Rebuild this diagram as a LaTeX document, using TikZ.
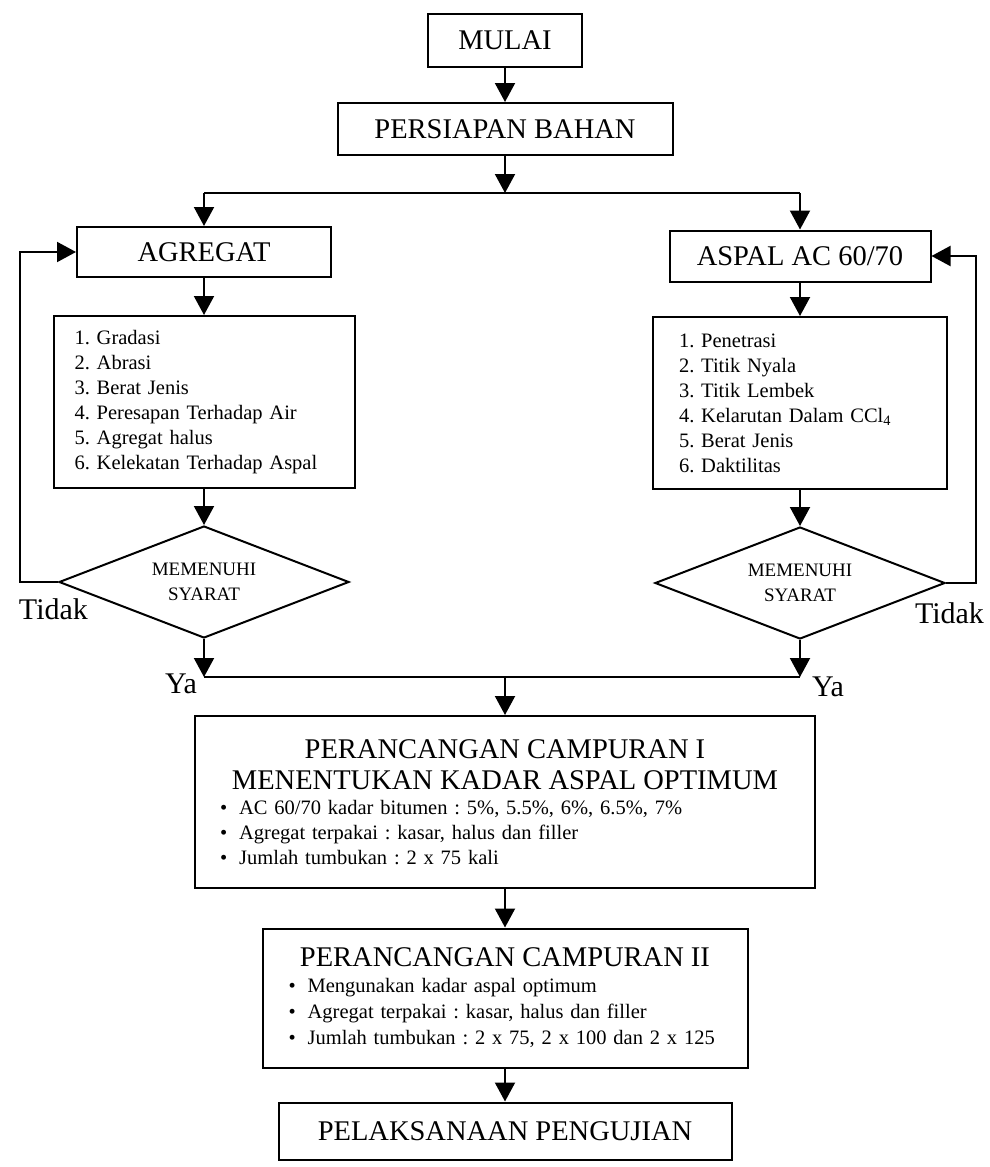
\documentclass[tikz,border=0pt]{standalone}
\usepackage{fontspec}
\setmainfont{Liberation Serif}
\usepackage{tikz}
\usetikzlibrary{arrows.meta,shapes.geometric}
\frenchspacing

\newcommand{\judul}{\fontsize{28.5}{31}\selectfont\spaceskip=0pt\xspaceskip=0pt}
\newcommand{\isi}{\fontsize{20.5}{25}\selectfont\frenchspacing}

\begin{document}
\begin{tikzpicture}[>={Triangle[length=19pt,width=20pt]},x=1pt,y=-1pt,line width=2pt,
    kotak/.style={draw,inner sep=0pt,font=\judul},
    daftar/.style={draw,inner ysep=0pt,align=left,minimum height=172pt,font=\isi},
    rancang/.style={draw,inner ysep=0pt,align=left,font=\isi},
    syarat/.style={draw,diamond,aspect=2.6,inner sep=0pt,minimum width=290pt,
      minimum height=112pt,align=center,font=\fontsize{19}{25}\selectfont},
    keterangan/.style={anchor=base west,inner sep=0pt,font=\fontsize{30}{30}\selectfont}]
  \useasboundingbox (0,0) rectangle (989,1167);
  % awal
  \node[kotak,minimum width=154pt,minimum height=53pt] (mulai) at (505,40) {MULAI};
  \node[kotak,minimum width=335pt,minimum height=52pt] (bahan) at (505,129) {PERSIAPAN BAHAN};
  \coordinate (cabang) at (505,193);
  % kolom agregat
  \node[kotak,minimum width=254pt,minimum height=50pt] (agregat) at (204,252) {AGREGAT};
  \node[daftar,text width=259pt,inner xsep=21pt] (ujiagr) at (204,402)
    {1. Gradasi\\2. Abrasi\\3. Berat Jenis\\4. Peresapan Terhadap Air\\5. Agregat halus\\6. Kelekatan Terhadap Aspal};
  \node[syarat] (cekagr) at (204,582) {MEMENUHI\\SYARAT};
  % kolom aspal
  \node[kotak,minimum width=261pt,minimum height=51pt] (aspal) at (800,256) {ASPAL AC 60/70};
  \node[daftar,text width=242pt,inner xsep=26pt] (ujiasp) at (800,403)
    {1. Penetrasi\\2. Titik Nyala\\3. Titik Lembek\\4. Kelarutan Dalam CCl\textsubscript{4}\\5. Berat Jenis\\6. Daktilitas};
  \node[syarat] (cekasp) at (800,583) {MEMENUHI\\SYARAT};
  % gabungan
  \coordinate (yakiri) at (204,677);
  \coordinate (yakanan) at (800,677);
  \coordinate (gabung) at (505,677);
  \node[rancang,text width=570pt,inner xsep=25pt,minimum height=172pt] (campur1) at (505,802)
    {{\judul\centering PERANCANGAN CAMPURAN I\\MENENTUKAN KADAR ASPAL OPTIMUM\par}
     {\isi\textbullet\hspace{12pt}AC 60/70 kadar bitumen : 5\%, 5.5\%, 6\%, 6.5\%, 7\%\\
      \textbullet\hspace{12pt}Agregat terpakai : kasar, halus dan filler\\
      \textbullet\hspace{12pt}Jumlah tumbukan : 2 x 75 kali\par}};
  \node[rancang,text width=433pt,inner xsep=26pt,minimum height=139pt] (campur2) at (505,998)
    {{\judul\centering PERANCANGAN CAMPURAN II\par}
     {\fontsize{20.5}{26}\selectfont\textbullet\hspace{12pt}Mengunakan kadar aspal optimum\\
      \textbullet\hspace{12pt}Agregat terpakai : kasar, halus dan filler\\
      \textbullet\hspace{12pt}Jumlah tumbukan : 2 x 75, 2 x 100 dan 2 x 125\par}};
  \node[kotak,minimum width=453pt,minimum height=57pt] (uji) at (505,1131) {PELAKSANAAN PENGUJIAN};
  % keterangan
  \node[keterangan] (tidakkiri) at (18,619) {Tidak};
  \node[keterangan] (tidakkanan) at (914,623) {Tidak};
  \node[keterangan] (yaa) at (164,693) {Ya};
  \node[keterangan] (yab) at (811,696) {Ya};
  % panah
  \draw[->] (mulai) -- (bahan);
  \draw[->] (bahan) -- (cabang);
  \draw (cabang -| agregat) -- (cabang -| aspal);
  \draw[->] (cabang -| agregat) -- (agregat);
  \draw[->] (cabang -| aspal) -- (aspal);
  \draw[->] (agregat) -- (ujiagr);
  \draw[->] (ujiagr) -- (cekagr);
  \draw[->] (aspal) -- (ujiasp);
  \draw[->] (ujiasp) -- (cekasp);
  \draw[->] (cekagr.west) -- ++(-38,0) |- (agregat.west);
  \draw[->] (cekasp.east) -- ++(30,0) |- (aspal.east);
  \draw[->] (cekagr.south) -- (yakiri);
  \draw[->] (cekasp.south) -- (yakanan);
  \draw (yakiri) -- (yakanan);
  \draw[->] (gabung) -- (campur1);
  \draw[->] (campur1) -- (campur2);
  \draw[->] (campur2) -- (uji);
\end{tikzpicture}
\end{document}
